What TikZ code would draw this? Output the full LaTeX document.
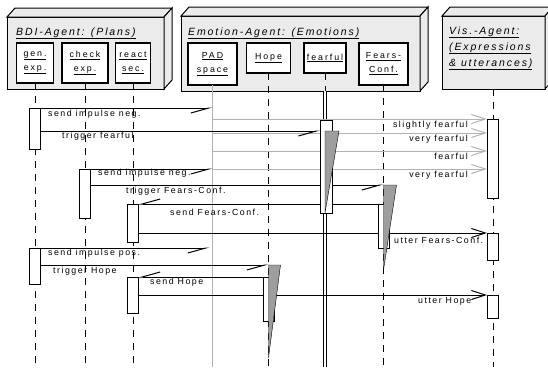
\documentclass[tikz,border=0pt]{standalone}
\usepackage{fontspec}
\setmainfont{Liberation Sans}
\newfontfamily\lblfont[LetterSpace=17]{Liberation Sans}
\newfontfamily\prtfont[LetterSpace=22]{Liberation Sans}
\newfontfamily\ttlfont[LetterSpace=18]{Liberation Sans}
\usetikzlibrary{arrows.meta,positioning}

\begin{document}
\begin{tikzpicture}[x=1pt, y=-1pt,
    pkg/.style={draw, fill=black!8, line width=1pt, outer sep=0pt, inner sep=0pt},
    part/.style={draw, fill=white, line width=1.2pt, outer sep=0pt, inner sep=1pt, align=center,
        minimum height=40pt, font=\prtfont\fontsize{8.8}{14}\selectfont},
    ttl/.style={inner sep=0pt, font=\ttlfont\itshape\fontsize{10.5}{12}\selectfont},
    life/.style={dash pattern=on 7pt off 6pt, line width=0.7pt},
    act/.style={draw, fill=white, line width=1pt, minimum width=11pt, inner sep=0pt, outer sep=0pt, anchor=north},
    fall/.style={draw, fill=black!38, line width=0.4pt},
    msg/.style={line width=1pt, -{Straight Barb[right, length=18pt, width=10pt]}},
    say/.style={line width=1pt, -{Straight Barb[length=14pt, width=9pt]}},
    sig/.style={black!30, line width=1pt, -{Straight Barb[length=14pt, width=9pt]}},
    lbl/.style={inner sep=0pt, font=\lblfont\fontsize{8.8}{10}\selectfont}]
    \useasboundingbox (0,0) rectangle (548,367);
    \coordinate (bottom) at (0,367);

    % Agents (packages)
    \foreach \nm/\x/\y/\w/\h in {bdi/7/17/157/72, emo/181/16/239/75, vis/442/16/103/73} {
        \node[pkg, minimum width=\w pt, minimum height=\h pt, anchor=north west] (\nm) at (\x,\y) {};
        \draw[pkg] (\nm.north west) -- ++(8,-9) -- ([shift={(8,-9)}]\nm.north east) -- (\nm.north east) -- cycle;
        \draw[pkg] (\nm.north east) -- ++(8,-9) -- ([shift={(8,-9)}]\nm.south east) -- (\nm.south east) -- cycle;
    }
    \node[ttl, anchor=base west] (bdit) at (16,35) {\underline{BDI-Agent: (Plans)}};
    \node[ttl, anchor=base west] (emot) at (188,35) {\underline{Emotion-Agent: (Emotions)}};
    \node[ttl, anchor=base west] (vist1) at (449,34) {\underline{Vis.-Agent:}};
    \node[ttl, anchor=base west] (vist2) at (449,50) {\underline{(Expressions}};
    \node[ttl, anchor=base west] (vist3) at (449,66) {\underline{\& utterances)}};

    % Parts
    \node[part, minimum width=37pt] (gen) at (35,63) {\underline{gen.}\\\underline{exp.}};
    \node[part, minimum width=46pt] (check) at (85,63) {\underline{check}\\\underline{exp.}};
    \node[part, minimum width=35pt] (react) at (133,63) {\underline{react}\\\underline{sec.}};
    \node[part, minimum width=49pt, minimum height=42pt] (pad) at (212.5,64) {\underline{PAD}\\\underline{space}};
    \node[part, minimum width=44pt, minimum height=30pt] (hope) at (268.5,58) {\underline{Hope}};
    \node[part, minimum width=42pt, minimum height=30pt] (fear) at (325,58) {\underline{fearful}};
    \node[part, minimum width=49pt, minimum height=42pt] (conf) at (383.5,64) {\underline{Fears-}\\\underline{Conf.}};

    % Lifelines
    \foreach \nm in {gen, check, react, hope, conf}
        \draw[life] (\nm.south) -- (\nm.south |- bottom);
    \draw[life] (vis.south) -- (vis.south |- bottom);
    \draw[black!30, line width=1pt] (pad.south) -- (pad.south |- bottom);
    \draw[life] (fear.south) -- (fear.south |- emo.south);
    \draw[double, double distance=2pt, line width=0.7pt] (fear.south |- emo.south) -- (fear.south |- bottom);

    % Activations
    \path
        (35,108) node[act, minimum height=41pt] (a1) {}
        (85,169) node[act, minimum height=49pt] (a2) {}
        (133,204) node[act, minimum height=38pt] (a3) {}
        (35,248) node[act, minimum height=36pt] (a4) {}
        (133,277) node[act, minimum height=36pt] (a5) {}
        (326,120) node[act, minimum height=93pt, minimum width=12pt] (f1) {}
        (383.5,204) node[act, minimum height=44pt] (c1) {}
        (268.5,277) node[act, minimum height=44pt] (h1) {}
        (492.5,119) node[act, minimum height=79pt] (v1) {}
        (492.5,233) node[act, minimum height=27pt] (v2) {}
        (492.5,295) node[act, minimum height=23pt] (v3) {};
    \coordinate (f1t) at ([shift={(-1,11)}]f1.north);
    \coordinate (c1t) at ([yshift=19pt]c1.north);
    \coordinate (h1t) at ([yshift=12pt]h1.north);

    % Messages
    \foreach \dy/\txt [count=\i] in {0/slightly fearful, 14/very fearful, 32/fearful, 50/very fearful} {
        \coordinate (s\i) at ([yshift=-\dy pt]v1.north west);
        \draw[sig] (pad.south |- s\i) -- (s\i);
        \node[lbl, anchor=north east] (g\i) at ([shift={(-19,2)}]s\i) {\txt};
    }
    \draw[msg] (a1.north east) -- (pad.south |- a1.north east);
    \draw[msg] (a1.east |- f1t) -- (f1.west |- f1t);
    \draw[msg] (a2.north east) -- (pad.south |- a2.north east);
    \draw[msg] (a2.east |- c1t) -- (c1t);
    \draw[msg] (c1.north west) -- (a3.north east);
    \draw[say] (a3.east |- v2.north) -- (v2.north west);
    \draw[msg] (a4.north east) -- ([xshift=-3pt]pad.south |- a4.north east);
    \draw[msg] (a4.east |- h1t) -- (h1t);
    \draw[msg] (h1.north west) -- (a5.north east);
    \draw[say] (a5.east |- v3.north) -- (v3.north west);

    % Activations on top
    \foreach \nm in {a1, a2, a3, a4, a5, f1, c1, h1, v1, v2, v3}
        \draw[fill=white, line width=1pt] (\nm.north west) rectangle (\nm.south east);
    \draw[fall] (f1t) -- ++(14,0) -- ([xshift=-1pt]f1.south) -- cycle;
    \draw[fall] (c1t) -- ++(13,0) -- ([yshift=-22pt]c1.south) -- cycle;
    \draw[fall] (h1t) -- ++(12,0) -- ([yshift=-37pt]h1.south) -- cycle;

    % Labels
    \node[lbl, anchor=west] (m1) at (48,114) {send impulse neg.};
    \node[lbl, anchor=west] (m2) at (62,136) {trigger fearful};
    \node[lbl, anchor=west] (m3) at (98,173) {send impulse neg.};
    \node[lbl, anchor=west] (m4) at (126,191) {trigger Fears-Conf.};
    \node[lbl, anchor=west] (m5) at (170,212) {send Fears-Conf.};
    \node[lbl, anchor=west] (m6) at (394,240) {utter Fears-Conf.};
    \node[lbl, anchor=west] (m7) at (48,253) {send impulse pos.};
    \node[lbl, anchor=west] (m8) at (53,271) {trigger Hope};
    \node[lbl, anchor=west] (m9) at (150,282) {send Hope};
    \node[lbl, anchor=west] (m10) at (418,301) {utter Hope};
\end{tikzpicture}
\end{document}
